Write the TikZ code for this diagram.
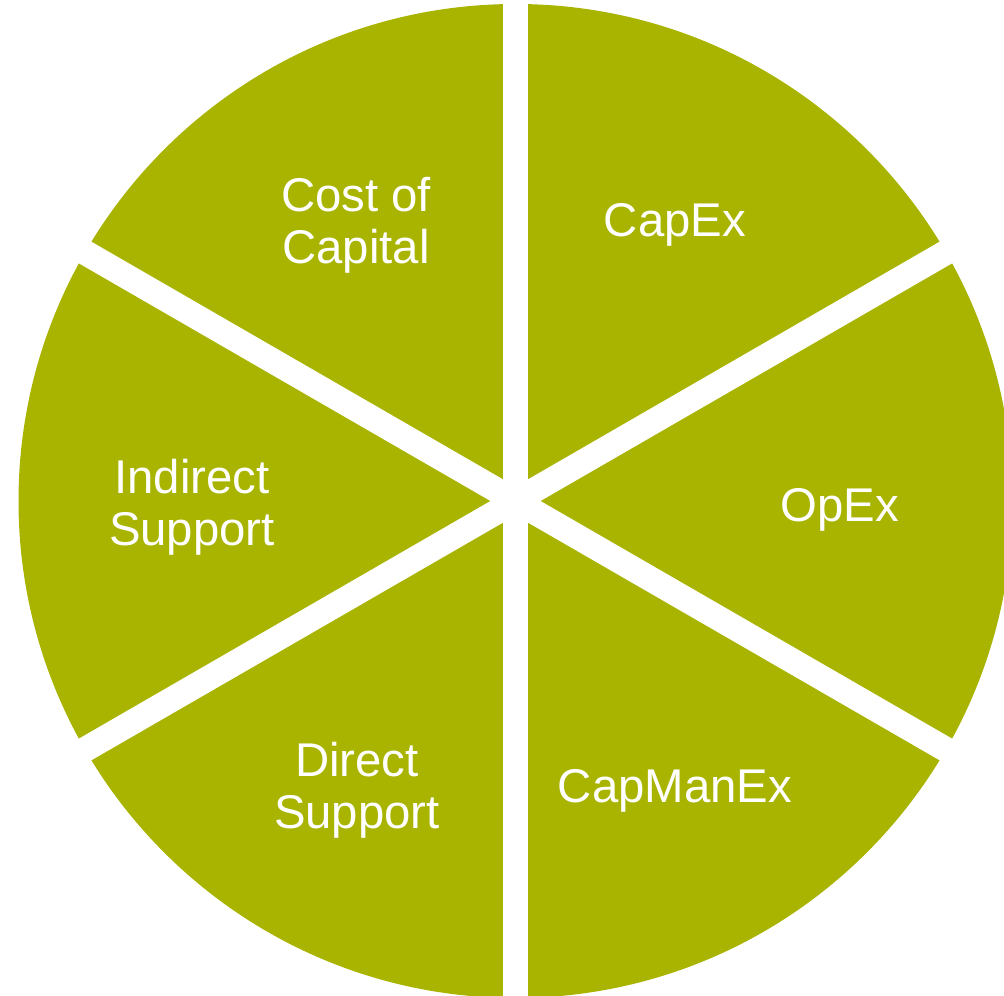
\documentclass[tikz,border=0pt]{standalone}
\usepackage{fontspec}
\setmainfont{Liberation Sans}
\definecolor{piegreen}{RGB}{169,180,0}

\begin{document}
\begin{tikzpicture}[
		x=0.75pt,y=0.75pt,
		every node/.style={text=white,align=center,inner sep=0pt,
			font=\fontsize{35.5}{39}\selectfont},
		slice/.style={fill=piegreen},
		gap/.style={draw=white,line width=18.75pt},
	]
	\useasboundingbox (0,0) rectangle (1004,996);
	\coordinate (c) at (515.5,495);
	\fill[slice] (c) circle (497);
	\foreach \a in {90,30,150}
		\draw[gap,shift={(c)}] (\a:530) -- (\a+180:530);
	\node (costcap) at (356,771) {Cost of\\Capital};
	\node (capex) at (675,771) {CapEx};
	\node (indirect) at (192,489) {Indirect\\Support};
	\node (opex) at (840,486) {OpEx};
	\node (direct) at (357,206) {Direct\\Support};
	\node (capmanex) at (675,205) {CapManEx};
\end{tikzpicture}
\end{document}
